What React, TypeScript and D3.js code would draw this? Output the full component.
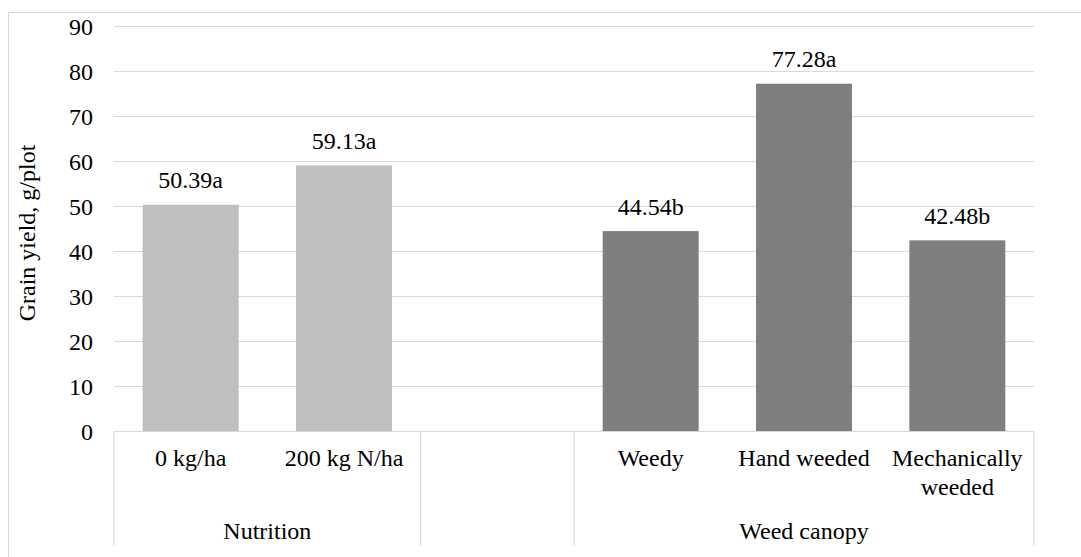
import React from "react";
import * as d3 from "d3";

// categories (empty slot between the two groups)
const categories = ["0 kg/ha", "200 kg N/ha", "", "Weedy", "Hand weeded", "Mechanically weeded"];
const catLines = [["0 kg/ha"], ["200 kg N/ha"], [], ["Weedy"], ["Hand weeded"], ["Mechanically", "weeded"]];
const values: (number | null)[] = [50.39, 59.13, null, 44.54, 77.28, 42.48];
const letters = ["a", "a", "", "b", "a", "b"];
const groupOf = ["Nutrition", "Nutrition", "", "Weed canopy", "Weed canopy", "Weed canopy"];
const groupNames = ["Nutrition", "Weed canopy"];
const yTicks = [0, 10, 20, 30, 40, 50, 60, 70, 80, 90];

const W = 1081;
const H = 557;
const FONT = '"Liberation Serif", "Times New Roman", "DejaVu Serif", serif';
const txt = { fontFamily: FONT, fontSize: 24, fill: "#000" };

export default function App() {
  const left = 114;
  const right = 1034;
  const top = 26.5;
  const bottom = 431.5;

  const idx = categories.map((_, i) => String(i));
  const slot = d3.scaleBand<string>().domain(idx).range([left, right]).padding(0);
  const x = d3.scaleBand<string>().domain(idx).range([left, right]).paddingInner(0.374).paddingOuter(0.187);
  const y = d3.scaleLinear().domain([0, 90]).range([bottom, top]);

  const lightCol = "#bfbfbf";
  const darkCol = "#7f7f7f";
  const gridCol = "#d9d9d9";

  // separator positions: where the group changes (plus the outer edges)
  const seps: number[] = [left];
  for (let i = 1; i < categories.length; i++) {
    if (groupOf[i] !== groupOf[i - 1]) seps.push(slot(String(i))!);
  }
  seps.push(right);

  const groupSpan = (name: string) => {
    const ids = groupOf.map((g, i) => (g === name ? i : -1)).filter((i) => i >= 0);
    const a = slot(String(ids[0]))!;
    const b = slot(String(ids[ids.length - 1]))! + slot.bandwidth();
    return (a + b) / 2;
  };

  return (
    <svg
      width={W}
      height={H}
      style={{ position: "absolute", left: 0, top: 0, display: "block", background: "#fff" }}
    >
      <rect x={8.5} y={12.5} width={1090} height={560} fill="#fff" stroke={gridCol} strokeWidth={1} />

      {/* gridlines */}
      {yTicks.map((t) => (
        <line key={t} x1={left} x2={right} y1={y(t)} y2={y(t)} stroke={gridCol} strokeWidth={1.2} />
      ))}

      {/* y tick labels */}
      {yTicks.map((t) => (
        <text key={"l" + t} x={93} y={y(t)} dy="0.35em" textAnchor="end" style={txt}>
          {t}
        </text>
      ))}

      {/* y axis title */}
      <text
        transform={`translate(35,${(top + bottom) / 2 + 4}) rotate(-90)`}
        textAnchor="middle"
        style={txt}
      >
        Grain yield, g/plot
      </text>

      {/* bars */}
      {values.map((v, i) =>
        v == null ? null : (
          <g key={"b" + i}>
            <rect
              x={x(String(i))}
              y={y(v)}
              width={x.bandwidth()}
              height={y(0) - y(v)}
              fill={groupOf[i] === "Nutrition" ? lightCol : darkCol}
            />
            <text
              x={x(String(i))! + x.bandwidth() / 2}
              y={y(v) - 16.5}
              textAnchor="middle"
              style={txt}
            >
              {v.toFixed(2) + letters[i]}
            </text>
          </g>
        )
      )}

      {/* category axis */}
      <line x1={left} x2={right} y1={bottom} y2={bottom} stroke={gridCol} strokeWidth={1.2} />
      {seps.map((s, i) => (
        <line key={"s" + i} x1={s} x2={s} y1={bottom} y2={545.5} stroke={gridCol} strokeWidth={1.2} />
      ))}
      {catLines.map((lines, i) =>
        lines.map((ln, j) => (
          <text
            key={"c" + i + "-" + j}
            x={slot(String(i))! + slot.bandwidth() / 2}
            y={466 + j * 28.5}
            textAnchor="middle"
            style={txt}
          >
            {ln}
          </text>
        ))
      )}
      {groupNames.map((g) => (
        <text key={g} x={groupSpan(g)} y={539} textAnchor="middle" style={txt}>
          {g}
        </text>
      ))}
    </svg>
  );
}
